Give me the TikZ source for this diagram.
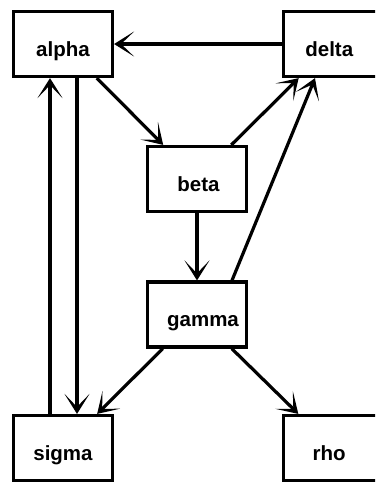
\documentclass[tikz,border=0pt]{standalone}
\usepackage{fontspec}
\setmainfont{Liberation Sans}
\usetikzlibrary{arrows.meta}
\begin{document}
\begin{tikzpicture}[x=1pt,y=-1pt,
  box/.style={draw, line width=3.2pt, minimum width=99pt, minimum height=65pt,
    inner sep=0pt, font=\fontsize{20.5}{24}\selectfont\bfseries,
    text height=24pt, text depth=0pt},
  conn/.style={line width=3.2pt, -{Stealth[length=20pt,width=25pt,inset=13pt]}}]
\clip (0,0) rectangle (375,482);
\node[box] (alpha) at (63,44) {alpha};
\node[box] (delta) at (333,44) {delta\hspace*{7.5pt}};
\node[box] (beta)  at (197,179) {\hspace*{3pt}beta};
\node[box] (gamma) at (197,314.5) {\hspace*{12pt}gamma};
\node[box] (sigma) at (63,448) {sigma};
\node[box] (rho)   at (333,448) {rho\hspace*{7.5pt}};
\draw[conn] (delta) -- (alpha);
\draw[conn] (alpha) -- (beta);
\draw[conn] (beta) -- (delta);
\draw[conn] (beta) -- (gamma);
\draw[conn] ([xshift=35pt]gamma.north) -- ([xshift=-18pt]delta.south);
\draw[conn] (gamma) -- (sigma);
\draw[conn] (gamma) -- (rho);
\draw[conn] ([xshift=-13pt]sigma.north) -- ([xshift=-13pt]alpha.south);
\draw[conn] ([xshift=14pt]alpha.south) -- ([xshift=14pt]sigma.north);
\end{tikzpicture}
\end{document}
